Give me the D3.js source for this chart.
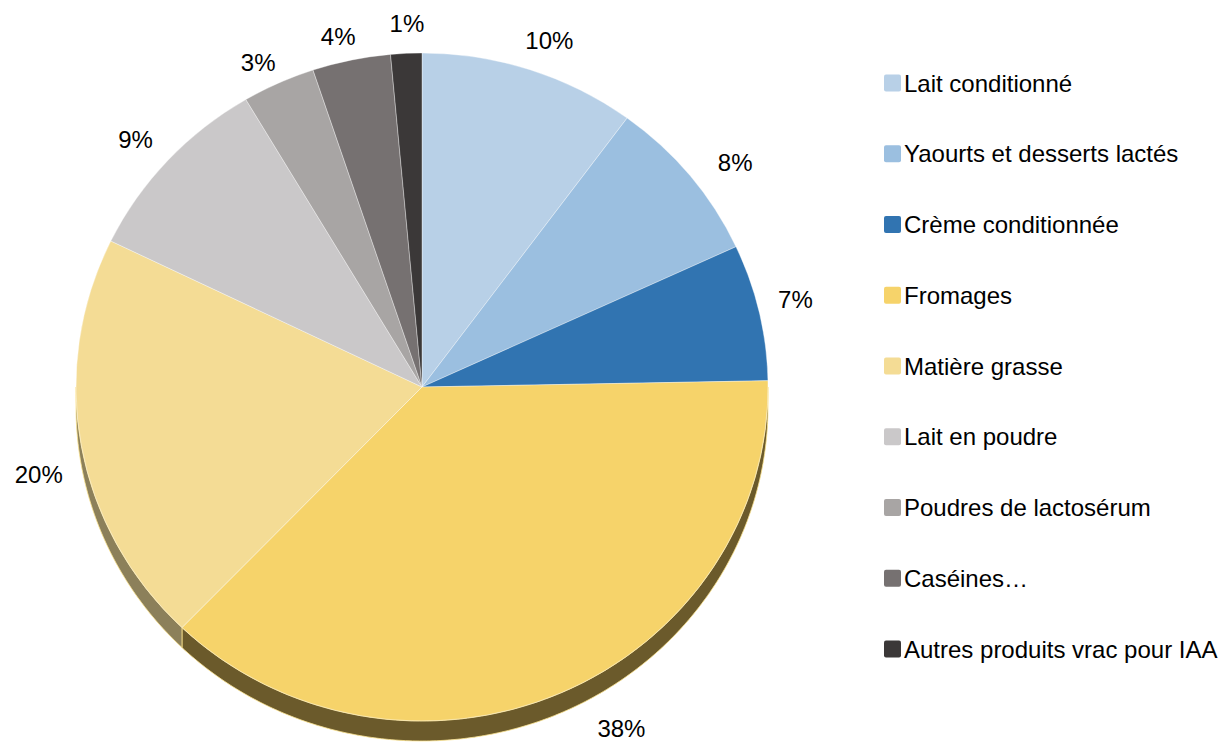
<!DOCTYPE html>
<html>
<head>
<meta charset="utf-8">
<script src="https://cdn.jsdelivr.net/npm/d3@7"></script>
<style>
  html, body { margin: 0; padding: 0; background: #ffffff; }
  svg { display: block; }
  text { font-family: "Liberation Sans", Arial, sans-serif; fill: #000; }
</style>
</head>
<body>
<svg id="chart" width="1219" height="742"></svg>
<script>
// Product categories and their shares (%)
const categories = [
  "Lait conditionné",
  "Yaourts et desserts lactés",
  "Crème conditionnée",
  "Fromages",
  "Matière grasse",
  "Lait en poudre",
  "Poudres de lactosérum",
  "Caséines…",
  "Autres produits vrac pour IAA"
];
const shares = [10.1, 8.0, 6.6, 37.5, 20.0, 9.3, 3.4, 3.65, 1.45];

// Top-face and side-wall colours
const fillColors = ["#b8d0e7", "#9bbfe0", "#3174b1", "#f6d36a", "#f4dc95", "#cac8c9", "#a8a5a4", "#767171", "#3b3838"];
const sideColors = ["#5a6876", "#4e6070", "#1b3d5d", "#6b5a2b", "#8c805a", "#6a696a", "#5a5858", "#403d3d", "#222020"];

// Small per-label adjustments of the outside labels
const labelNudge = [[10, -1], [22, 6], [7, -6], [49, 8], [-13, 24], [-10, -1], [-8, 7], [-7, 6], [2, 0]];

const svg = d3.select("#chart");
const cx = 422, cy = 387, rx = 346, ry = 334, depth = 20;

const pie = d3.pie().sort(null).value(d => d.v);
const arcs = pie(shares.map((v, i) => ({ v, i })));

const pt = (t, off) => [cx + rx * Math.sin(t), cy - ry * Math.cos(t) + off];

// Side wall: only the front half (angles between PI/2 and 3PI/2) is visible
const sideG = svg.append("g");
arcs.forEach(d => {
  const a = Math.max(d.startAngle, Math.PI / 2);
  const b = Math.min(d.endAngle, 3 * Math.PI / 2);
  if (a >= b) return;
  const n = Math.max(2, Math.ceil((b - a) / 0.01));
  const ts = d3.range(n + 1).map(k => a + (b - a) * k / n);
  const top = ts.map(t => pt(t, 0));
  const bottom = ts.slice().reverse().map(t => pt(t, depth));
  sideG.append("path")
    .attr("d", d3.line()(top.concat(bottom)) + "Z")
    .attr("fill", sideColors[d.data.i])
    .attr("stroke", "#fbe38f")
    .attr("stroke-width", 0.8);
});

// Top face of the pie, an ellipse built from a circular arc scaled horizontally
const arc = d3.arc().innerRadius(0).outerRadius(ry);
const topG = svg.append("g").attr("transform", `translate(${cx},${cy}) scale(${rx / ry},1)`);
topG.selectAll("path")
  .data(arcs)
  .join("path")
  .attr("d", arc)
  .attr("fill", d => fillColors[d.data.i])
  .attr("stroke", "rgba(255,255,255,0.45)")
  .attr("stroke-width", 0.8)
  .attr("vector-effect", "non-scaling-stroke");

// Percentage labels outside the pie
const labelOff = 30;
svg.append("g").selectAll("text")
  .data(arcs)
  .join("text")
  .attr("x", d => {
    const m = (d.startAngle + d.endAngle) / 2;
    return cx + (rx + labelOff) * Math.sin(m) + labelNudge[d.data.i][0];
  })
  .attr("y", d => {
    const m = (d.startAngle + d.endAngle) / 2;
    return cy - (ry + labelOff) * Math.cos(m) + labelNudge[d.data.i][1];
  })
  .attr("text-anchor", "middle")
  .attr("dy", "0.35em")
  .style("font-size", "24px")
  .text(d => Math.round(d.data.v) + "%");

// Legend
const legendY = d3.scalePoint().domain(categories).range([83, 649]);
const legend = svg.append("g").selectAll("g")
  .data(categories)
  .join("g")
  .attr("transform", d => `translate(884,${legendY(d)})`);
legend.append("rect")
  .attr("x", 0).attr("y", -8.5)
  .attr("width", 17).attr("height", 17)
  .attr("rx", 2)
  .attr("fill", (d, i) => fillColors[i]);
legend.append("text")
  .attr("x", 20).attr("y", 8.5)
  .style("font-size", "24px")
  .text(d => d);
</script>
</body>
</html>
